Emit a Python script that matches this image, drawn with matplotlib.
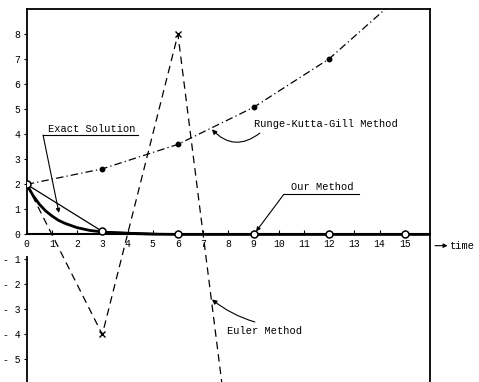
import matplotlib
matplotlib.use('Agg')
import matplotlib.pyplot as plt

plt.rcParams['font.family'] = ['Liberation Mono', 'DejaVu Sans Mono']

# exact solution
t_exact = [0, 0.25, 0.5, 0.75, 1, 1.25, 1.5, 2, 2.5, 3, 3.5, 4, 5, 6, 16]
y_exact = [2.0, 1.56, 1.21, 0.94, 0.74, 0.57, 0.45, 0.27, 0.16, 0.10, 0.06, 0.04, 0.01, 0.0, 0.0]

# our method, step h = 3
t_ours = [0, 3, 6, 9, 12, 15]
y_ours = [2.0, 0.12, 0.0, 0.0, 0.0, 0.0]

# Euler method
t_euler = [0, 3, 6, 9]
y_euler = [2.0, -4.0, 8.0, -16.0]

# Runge-Kutta-Gill
t_rkg = [0, 3, 6, 9, 12, 15]
y_rkg = [2.0, 2.62, 3.6, 5.08, 7.02, 9.7]

xticks = list(range(0, 16))
yticks = [8, 7, 6, 5, 4, 3, 2, 1, 0, -1, -2, -3, -4, -5]
ytick_labels = ['8', '7', '6', '5', '4', '3', '2', '1', '0', '- 1', '- 2', '- 3', '- 4', '- 5']

fig = plt.figure(figsize=(4.79, 3.82), dpi=100)
ax = fig.add_axes([0.0557, 0.0, 0.842, 0.9757])
ax.set_xlim(0, 16)
ax.set_ylim(-5.9, 9.0)

ax.plot(t_rkg, y_rkg, color='black', lw=0.9, dashes=[6, 2.5, 1, 2.5])
ax.plot(t_rkg[1:5], y_rkg[1:5], 'o', color='black', ms=3.2, zorder=5)

ax.plot(t_euler, y_euler, color='black', lw=0.9, dashes=[6, 4])
ax.plot(t_euler[1:3], y_euler[1:3], 'x', color='black', ms=5, mew=1.0, zorder=5)

ax.plot(t_exact, y_exact, color='black', lw=2.0, solid_capstyle='round')
ax.plot(t_ours, y_ours, color='black', lw=0.9)
ax.plot(t_ours, y_ours, 'o', mfc='white', mec='black', ms=5, mew=1.1, zorder=6)

# axes frame: left line broken below zero, x axis drawn at y = 0
ax.spines['left'].set_visible(False)
ax.spines['bottom'].set_position(('data', 0))
ax.spines['bottom'].set_linewidth(1.5)
ax.spines['top'].set_linewidth(1.3)
ax.spines['right'].set_linewidth(1.3)
ax.plot([0, 0], [0, 9.0], color='black', lw=1.3, clip_on=False)
ax.plot([0, 0], [-0.9, -5.9], color='black', lw=1.3, clip_on=False)

ax.set_xticks(xticks)
ax.set_xticklabels([str(v) for v in xticks], fontsize=7)
ax.tick_params(axis='x', direction='in', length=3, pad=3, width=0.8)
ax.set_yticks(yticks)
ax.set_yticklabels(ytick_labels, fontsize=7)
ax.tick_params(axis='y', direction='out', length=2.5, pad=2, width=0.8)

fs = 7.5
arrow = dict(arrowstyle='-|>', color='black', lw=0.8, mutation_scale=6,
             shrinkA=0, shrinkB=0)

# Exact Solution label with underline and leader
ax.text(0.85, 4.0, 'Exact Solution', fontsize=fs, ha='left', va='bottom')
ax.plot([0.65, 4.4], [3.97, 3.97], color='black', lw=0.8)
ax.annotate('', xy=(1.28, 0.86), xytext=(0.65, 3.97), arrowprops=arrow)

# Runge-Kutta-Gill label
ax.annotate('', xy=(7.35, 4.2), xytext=(9.25, 4.05),
            arrowprops=dict(arrow, mutation_scale=7,
                            connectionstyle='arc3,rad=-0.45'))
ax.text(9.0, 4.4, 'Runge-Kutta-Gill Method', fontsize=fs, ha='left', va='center')

# Our Method label
ax.text(10.5, 1.9, 'Our Method', fontsize=fs, ha='left', va='center')
ax.plot([10.2, 13.2], [1.6, 1.6], color='black', lw=0.8)
ax.annotate('', xy=(9.1, 0.12), xytext=(10.2, 1.6), arrowprops=arrow)

# Euler Method label
ax.annotate('', xy=(7.35, -2.6), xytext=(9.05, -3.5),
            arrowprops=dict(arrow, mutation_scale=7,
                            connectionstyle='arc3,rad=-0.1'))
ax.text(7.95, -3.87, 'Euler Method', fontsize=fs, ha='left', va='center')

# time arrow outside the frame
ax.annotate('', xy=(16.7, -0.45), xytext=(16.2, -0.45), annotation_clip=False,
            arrowprops=arrow)
ax.text(16.8, -0.45, 'time', fontsize=fs, ha='left', va='center', clip_on=False)

fig.savefig('out.png', dpi=100)
